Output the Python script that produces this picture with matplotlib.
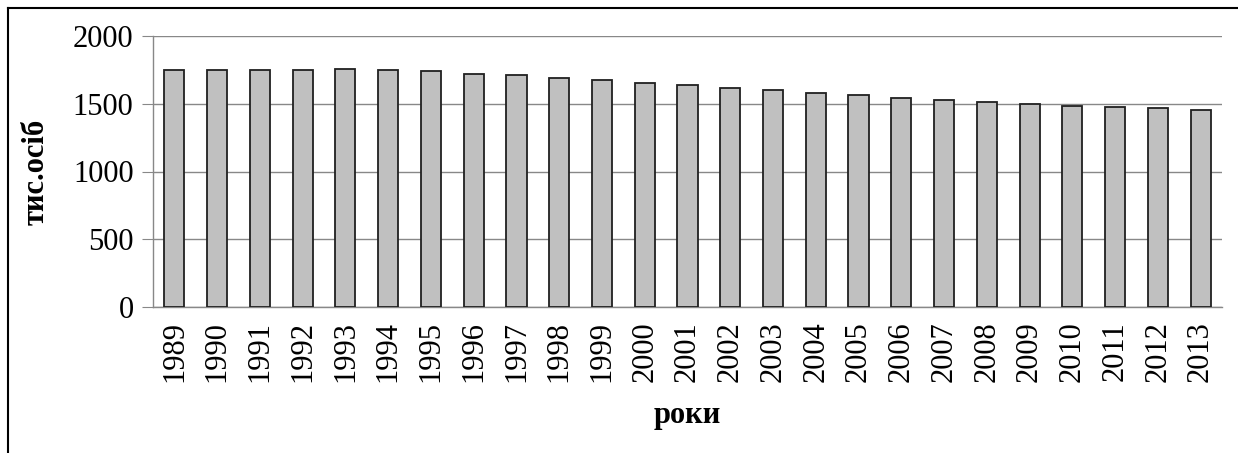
import matplotlib.pyplot as plt
from matplotlib.lines import Line2D

years = [str(y) for y in range(1989, 2014)]
values = [1748, 1748, 1748, 1748, 1758, 1748, 1739, 1721, 1711, 1691,
          1672, 1654, 1635, 1617, 1598, 1580, 1561, 1541, 1524, 1514,
          1496, 1486, 1476, 1467, 1457]
y_ticks = [0, 500, 1000, 1500, 2000]

plt.rcParams["font.family"] = "Liberation Serif"

dpi = 100
W, H = 1238, 453
fig = plt.figure(dpi=dpi, figsize=(W / dpi, H / dpi))
ax = fig.add_axes([153 / W, 1 - 307 / H, (1222 - 153) / W, (307 - 36) / H])

ax.bar(range(len(years)), values, width=0.47, color="#c0c0c0",
       edgecolor="#202020", linewidth=1.3, zorder=3)

ax.set_xlim(-0.5, len(years) - 0.5)
ax.set_ylim(0, 2000)
ax.set_yticks(y_ticks)
ax.set_xticks(range(len(years)))
ax.set_xticklabels(years, rotation=90, fontsize=22)
ax.tick_params(axis="y", labelsize=22, length=8, color="#888888", pad=6)
ax.tick_params(axis="x", length=0, pad=10)
ax.grid(axis="y", color="#888888", linewidth=1.0, zorder=0)

for side in ["top", "right"]:
    ax.spines[side].set_visible(False)
for side in ["left", "bottom"]:
    ax.spines[side].set_color("#888888")
    ax.spines[side].set_linewidth(1.0)

ax.set_ylabel("тис.осіб", fontsize=22, fontweight="bold", labelpad=16)
ax.set_xlabel("роки", fontsize=22, fontweight="bold", labelpad=14)

# frame only on top and left, as in the source
fig.lines.append(Line2D([8 / W, 8 / W], [0, 1 - 8 / H], transform=fig.transFigure,
                        color="black", linewidth=1.5))
fig.lines.append(Line2D([8 / W, 1], [1 - 8 / H, 1 - 8 / H], transform=fig.transFigure,
                        color="black", linewidth=1.5))

fig.savefig("out.png", dpi=dpi)
